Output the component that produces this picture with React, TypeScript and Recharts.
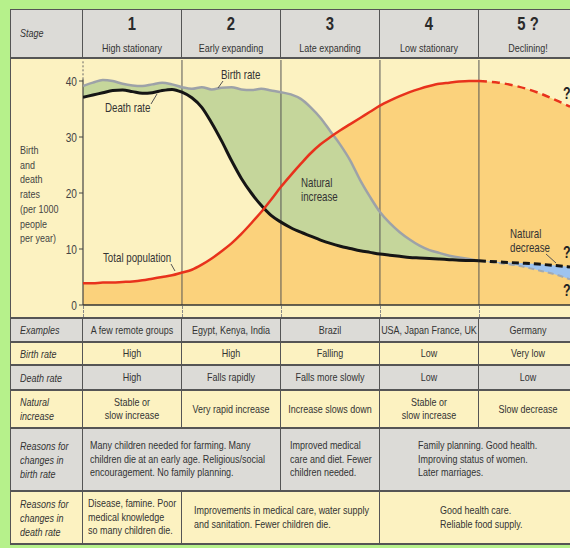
import React from "react";
import { ComposedChart, Area, Line, XAxis, YAxis, ReferenceLine } from "recharts";

// position along the model, in stages (0 = start of stage 1)
const stagePos = [
  0, 0.1, 0.2, 0.3, 0.4, 0.5, 0.6, 0.7, 0.8, 0.9, 1.0,
  1.1, 1.2, 1.3, 1.4, 1.5, 1.6, 1.7, 1.8, 1.9, 2.0,
  2.1, 2.2, 2.3, 2.4, 2.5, 2.6, 2.7, 2.8, 2.9, 3.0,
  3.1, 3.2, 3.3, 3.4, 3.5, 3.6, 3.7, 3.8, 3.9, 4.0,
  4.2, 4.4, 4.6, 4.8, 4.92,
];

const birthRate = [
  39.1, 39.7, 40.2, 40.0, 39.5, 39.2, 39.1, 39.4, 39.7, 39.4, 38.9,
  38.6, 38.9, 38.5, 38.8, 38.9, 38.5, 38.4, 38.6, 38.3, 38.0,
  37.6, 36.8, 35.3, 33.4, 31.0, 28.6, 25.8, 22.3, 19.3, 16.6,
  14.6, 13.0, 11.7, 10.6, 9.8, 9.3, 8.8, 8.5, 8.2, 7.9,
  7.5, 7.0, 6.2, 5.3, 4.6,
];

const deathRate = [
  37.1, 37.5, 37.9, 38.3, 38.4, 38.1, 37.8, 37.9, 38.3, 38.5, 38.0,
  37.0, 35.3, 32.5, 29.3, 25.8, 22.6, 20.0, 17.8, 16.0, 14.8,
  13.8, 13.0, 12.3, 11.6, 11.0, 10.5, 10.1, 9.7, 9.4, 9.1,
  8.9, 8.7, 8.5, 8.4, 8.3, 8.2, 8.1, 8.0, 7.95, 7.9,
  7.7, 7.5, 7.3, 7.0, 6.8,
];

const totalPopulation = [
  3.9, 3.9, 4.0, 4.0, 4.1, 4.2, 4.4, 4.7, 5.0, 5.3, 5.8,
  6.3, 7.2, 8.3, 9.6, 11.0, 12.7, 14.6, 16.6, 18.8, 21.1,
  23.2, 25.2, 27.1, 28.7, 30.0, 31.2, 32.3, 33.4, 34.5, 35.6,
  36.5, 37.3, 38.0, 38.6, 39.1, 39.5, 39.7, 39.9, 40.0, 40.0,
  39.7, 39.0, 37.9, 36.4, 35.4,
];

const projectionFrom = 4;
const rateTicks = [0, 10, 20, 30, 40];

const stageNumbers = ["1", "2", "3", "4", "5 ?"];
const stageNames = ["High stationary", "Early expanding", "Late expanding", "Low stationary", "Declining!"];
const examples = ["A few remote groups", "Egypt, Kenya, India", "Brazil", "USA, Japan France, UK", "Germany"];
const birthRateText = ["High", "High", "Falling", "Low", "Very low"];
const deathRateText = ["High", "Falls rapidly", "Falls more slowly", "Low", "Low"];
const naturalIncreaseText = [
  "Stable or\nslow increase",
  "Very rapid increase",
  "Increase slows down",
  "Stable or\nslow increase",
  "Slow decrease",
];
const birthReasons = [
  { from: 0, to: 2, text: "Many children needed for farming. Many\nchildren die at an early age. Religious/social\nencouragement. No family planning." },
  { from: 2, to: 3, text: "Improved medical\ncare and diet. Fewer\nchildren needed." },
  { from: 3, to: 5, text: "Family planning. Good health.\nImproving status of women.\nLater marriages." },
];
const deathReasons = [
  { from: 0, to: 1, text: "Disease, famine. Poor\nmedical knowledge\nso many children die." },
  { from: 1, to: 3, text: "Improvements in medical care, water supply\nand sanitation. Fewer children die." },
  { from: 3, to: 5, text: "Good health care.\nReliable food supply." },
];
const rowLabels = [
  "Examples",
  "Birth rate",
  "Death rate",
  "Natural\nincrease",
  "Reasons for\nchanges in\nbirth rate",
  "Reasons for\nchanges in\ndeath rate",
];

const chartData = stagePos.map((s, i) => {
  const b = birthRate[i];
  const d = deathRate[i];
  const known = s <= projectionFrom;
  const projected = s >= projectionFrom;
  return {
    s,
    population: totalPopulation[i],
    increase: [d, Math.max(b, d)],
    decrease: [Math.min(b, d), d],
    birth: known ? b : null,
    death: known ? d : null,
    pop: known ? totalPopulation[i] : null,
    birthProj: projected ? b : null,
    deathProj: projected ? d : null,
    popProj: projected ? totalPopulation[i] : null,
  };
});

// no condensed face installed, so squeeze Liberation Sans horizontally
const FONT = "'Liberation Sans', Arial, sans-serif";
const SQ = 0.78;
const COL = [83, 182, 281, 380, 479, 578];
const LEFT = 11;
const GREY = "#dcdbd7";
const YELLOW = "#fcf2c1";
const BORDER = "#555";
const INK = "#333";

const tableRows = [
  { top: 319, bottom: 343, bg: GREY },
  { top: 343, bottom: 366, bg: YELLOW },
  { top: 366, bottom: 391, bg: GREY },
  { top: 391, bottom: 429, bg: YELLOW },
  { top: 429, bottom: 492, bg: GREY },
  { top: 492, bottom: 545, bg: YELLOW },
];
const reasonIndent = [[7, 9, 38], [5, 12, 60]];

function Squeezed({ left, width, align = "center", lh = 13.5, size = 11.5, children, style = {} }) {
  return (
    <div
      style={{
        position: "absolute",
        left,
        top: 0,
        bottom: 0,
        width: width / SQ,
        transform: `scaleX(${SQ})`,
        transformOrigin: "left center",
        display: "flex",
        alignItems: "center",
        justifyContent: align === "center" ? "center" : "flex-start",
        textAlign: align,
        whiteSpace: "pre",
        fontFamily: FONT,
        fontSize: size,
        lineHeight: `${lh}px`,
        color: INK,
        ...style,
      }}
    >
      <div>{children}</div>
    </div>
  );
}

function Cell({ x0, x1, y0, y1, bg, children = null, align = "center", indent = 0, lh = 13.5 }) {
  return (
    <div
      style={{
        position: "absolute",
        left: x0,
        top: y0,
        width: x1 - x0,
        height: y1 - y0,
        background: bg,
        borderRight: `1px solid ${BORDER}`,
        borderBottom: `2px solid ${BORDER}`,
        boxSizing: "border-box",
      }}
    >
      {children !== null && (
        <Squeezed left={indent} width={x1 - x0 - 1 - indent} align={align} lh={lh}>
          {children}
        </Squeezed>
      )}
    </div>
  );
}

function RateTick({ x, y, payload }) {
  return (
    <text
      transform={`translate(${x},${y}) scale(${SQ},1)`}
      textAnchor="end"
      dominantBaseline="central"
      fontSize={13}
      fill="#444"
      fontFamily={FONT}
    >
      {payload.value}
    </text>
  );
}

function DemographicChart() {
  return (
    <div style={{ position: "absolute", left: LEFT, top: 59 }}>
      <ComposedChart width={559} height={260} data={chartData} margin={{ top: 1, right: 0, bottom: 14, left: 0 }}>
        <XAxis type="number" dataKey="s" domain={[0, 4.92]} hide allowDataOverflow />
        <YAxis
          type="number"
          domain={[0, 43.75]}
          ticks={rateTicks}
          width={72}
          axisLine={false}
          tickLine={{ stroke: "#444" }}
          tickSize={4}
          tickMargin={2}
          tick={RateTick}
          allowDataOverflow
        />
        <Area type="monotone" dataKey="population" stroke="none" fill="#fbd27c" fillOpacity={1} isAnimationActive={false} />
        <Area type="monotone" dataKey="increase" stroke="none" fill="#c5d69b" fillOpacity={1} isAnimationActive={false} />
        <Area type="monotone" dataKey="decrease" stroke="none" fill="#9dc3f0" fillOpacity={1} isAnimationActive={false} />
        {[1, 2, 3, 4].map((x) => (
          <ReferenceLine key={x} x={x} stroke="#555" strokeWidth={1} />
        ))}
        <ReferenceLine segment={[{ x: 0, y: 0 }, { x: 0, y: 40.3 }]} stroke="#444" strokeWidth={1.2} />
        <ReferenceLine segment={[{ x: 0, y: 40.3 }, { x: 0, y: 43.75 }]} stroke="#666" strokeDasharray="2 2" />
        <ReferenceLine y={0} stroke="#333" strokeWidth={1.5} />
        <Line type="monotone" dataKey="birth" stroke="#9da2a8" strokeWidth={2.5} dot={false} isAnimationActive={false} />
        <Line type="monotone" dataKey="birthProj" stroke="#a3aab2" strokeWidth={2} strokeDasharray="6 4" dot={false} isAnimationActive={false} />
        <Line type="monotone" dataKey="death" stroke="#151515" strokeWidth={3} dot={false} isAnimationActive={false} />
        <Line type="monotone" dataKey="deathProj" stroke="#151515" strokeWidth={3} strokeDasharray="7 4" dot={false} isAnimationActive={false} />
        <Line type="monotone" dataKey="pop" stroke="#e8321c" strokeWidth={2.5} dot={false} isAnimationActive={false} />
        <Line type="monotone" dataKey="popProj" stroke="#e8321c" strokeWidth={2.5} strokeDasharray="8 5" dot={false} isAnimationActive={false} />
      </ComposedChart>
    </div>
  );
}

function Note({ x, y, children, size = 12.5, bold = false }) {
  return (
    <text
      transform={`translate(${x},${y}) scale(${SQ},1)`}
      fontFamily={FONT}
      fontSize={size}
      fontWeight={bold ? 700 : 400}
      fill={bold ? "#222" : INK}
    >
      {children}
    </text>
  );
}

function Annotations() {
  return (
    <svg width={570} height={548} style={{ position: "absolute", left: 0, top: 0, pointerEvents: "none" }}>
      <Note x={221} y={79}>Birth rate</Note>
      <line x1={223} y1={81} x2={218} y2={88} stroke="#555" />
      <Note x={105} y={112}>Death rate</Note>
      <line x1={151} y1={104} x2={157} y2={94} stroke="#555" />
      <Note x={103} y={262}>Total population</Note>
      <line x1={171} y1={264} x2={175} y2={271} stroke="#555" />
      <Note x={301} y={187}>Natural</Note>
      <Note x={301} y={201}>increase</Note>
      <Note x={510} y={238}>Natural</Note>
      <Note x={510} y={252}>decrease</Note>
      <line x1={546} y1={254} x2={556} y2={263} stroke="#555" />
      <Note x={563} y={99} size={16} bold>?</Note>
      <Note x={563} y={258} size={16} bold>?</Note>
      <Note x={563} y={296} size={16} bold>?</Note>
    </svg>
  );
}

export default function App() {
  const stageSpans = [0, 1, 2, 3, 4];
  const simpleRows = [examples, birthRateText, deathRateText, naturalIncreaseText];
  return (
    <div style={{ position: "absolute", left: 0, top: 0, width: 570, height: 548, overflow: "hidden", background: "#b6f18b" }}>
      <div
        style={{
          position: "absolute",
          left: LEFT - 1,
          top: 9,
          width: 578 - LEFT + 1,
          height: 545 - 9,
          borderLeft: `1px solid ${BORDER}`,
          borderTop: `1px solid ${BORDER}`,
          boxSizing: "border-box",
        }}
      />
      {/* header */}
      <Cell x0={LEFT} x1={COL[0]} y0={10} y1={59} bg={GREY} align="left" indent={9}>
        <i>Stage</i>
      </Cell>
      {stageSpans.map((i) => (
        <div key={i} style={{ position: "absolute", left: COL[i], top: 10, width: COL[i + 1] - COL[i], height: 49, background: GREY, borderRight: `1px solid ${BORDER}`, borderBottom: `2px solid ${BORDER}`, boxSizing: "border-box" }}>
          <Squeezed left={0} width={COL[i + 1] - COL[i] - 1} lh={20} size={19} style={{ top: 3, bottom: "auto", height: 22, fontWeight: 700, color: "#2a2a2a" }}>
            {stageNumbers[i]}
          </Squeezed>
          <Squeezed left={0} width={COL[i + 1] - COL[i] - 1} lh={12} style={{ top: 32, bottom: "auto", height: 12 }}>
            {stageNames[i]}
          </Squeezed>
        </div>
      ))}
      {/* chart section */}
      <div
        style={{
          position: "absolute",
          left: LEFT,
          top: 59,
          width: 578 - LEFT,
          height: 260,
          background: YELLOW,
          borderBottom: `2px solid ${BORDER}`,
          boxSizing: "border-box",
        }}
      />
      <div style={{ position: "absolute", left: 20, top: 143, width: 60, height: 103 }}>
        <Squeezed left={0} width={60} align="left" lh={14.7} style={{ color: "#444", alignItems: "flex-start" }}>
          {"Birth\nand\ndeath\nrates\n(per 1000\npeople\nper year)"}
        </Squeezed>
      </div>
      <DemographicChart />
      {COL.slice(0, 5).map((x) => (
        <div
          key={x}
          style={{ position: "absolute", left: x, top: 306, height: 11, borderLeft: "1px dashed #888" }}
        />
      ))}
      {/* table */}
      {simpleRows.map((row, r) => (
        <div key={r}>
          <Cell x0={LEFT} x1={COL[0]} y0={tableRows[r].top} y1={tableRows[r].bottom} bg={tableRows[r].bg} align="left" indent={9} lh={14}>
            <i>{rowLabels[r]}</i>
          </Cell>
          {stageSpans.map((i) => (
            <Cell key={i} x0={COL[i]} x1={COL[i + 1]} y0={tableRows[r].top} y1={tableRows[r].bottom} bg={tableRows[r].bg} lh={13}>
              {row[i]}
            </Cell>
          ))}
        </div>
      ))}
      {[birthReasons, deathReasons].map((cells, k) => {
        const tr = tableRows[4 + k];
        return (
          <div key={k}>
            <Cell x0={LEFT} x1={COL[0]} y0={tr.top} y1={tr.bottom} bg={tr.bg} align="left" indent={9} lh={14}>
              <i>{rowLabels[4 + k]}</i>
            </Cell>
            {cells.map((c, j) => (
              <Cell key={j} x0={COL[c.from]} x1={COL[c.to]} y0={tr.top} y1={tr.bottom} bg={tr.bg} align="left" indent={reasonIndent[k][j]}>
                {c.text}
              </Cell>
            ))}
          </div>
        );
      })}
      <Annotations />
    </div>
  );
}
